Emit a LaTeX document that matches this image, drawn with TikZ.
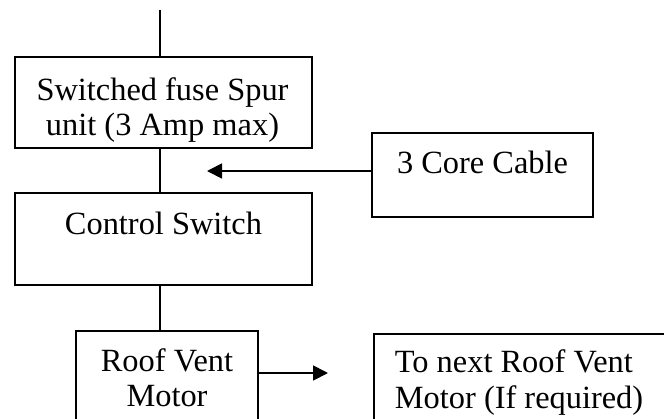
\documentclass[tikz,border=0pt]{standalone}
\usepackage{fontspec}
\setmainfont{Liberation Serif}
\usetikzlibrary{arrows.meta}
\begin{document}
\begin{tikzpicture}[x=0.5pt,y=-0.5pt,
  line width=0.9pt,
  box/.style={draw, rectangle, inner sep=0pt, line width=0.9pt},
  txt/.style={inner sep=0pt, anchor=base, font=\fontsize{16.2}{17.5}\selectfont},
  conn/.style={line width=0.9pt},
  arr/.style={line width=0.9pt, -{Triangle[length=7.5pt,width=7.5pt]}}]
\useasboundingbox (0,0) rectangle (664,418);
\clip (0,0) rectangle (664,418);
% boxes
\node[box, minimum width=148.5pt, minimum height=45.5pt] (fuse) at (163.5,102.5) {};
\node[box, minimum width=148.5pt, minimum height=46pt] (ctrl) at (163.5,239) {};
\node[box, minimum width=110.5pt, minimum height=42pt] (core) at (482.5,175) {};
\node[box, minimum width=91pt, minimum height=60pt] (roof) at (167,391) {};
\node[box, minimum width=180pt, minimum height=60pt, anchor=north west] (next) at (373,333) {};
% texts
\node[txt] (t1) at (162.5,100) {Switched fuse Spur};
\node[txt] (t2) at (162.5,135) {unit (3 Amp max)};
\node[txt] (t3) at (163.5,234) {Control Switch};
\node[txt] (t4) at (482.5,173) {3 Core Cable};
\node[txt] (t5) at (167,371) {Roof Vent};
\node[txt] (t6) at (167,406) {Motor};
\node[txt, anchor=base west] (t7) at (394,372) {To next Roof Vent};
\node[txt, anchor=base west] (t8) at (394,408) {Motor (If required)};
% connectors
\coordinate (top) at (160,10);
\coordinate (tipA) at (207,171);
\coordinate (tipB) at (328,373);
\draw[conn] (top) -- (fuse.north -| top);
\draw[conn] (fuse.south -| top) -- (ctrl.north -| top);
\draw[conn] (ctrl.south -| top) -- (roof.north -| top);
\draw[arr] (core.west |- tipA) -- (tipA);
\draw[arr] (roof.east |- tipB) -- (tipB);
\end{tikzpicture}
\end{document}
